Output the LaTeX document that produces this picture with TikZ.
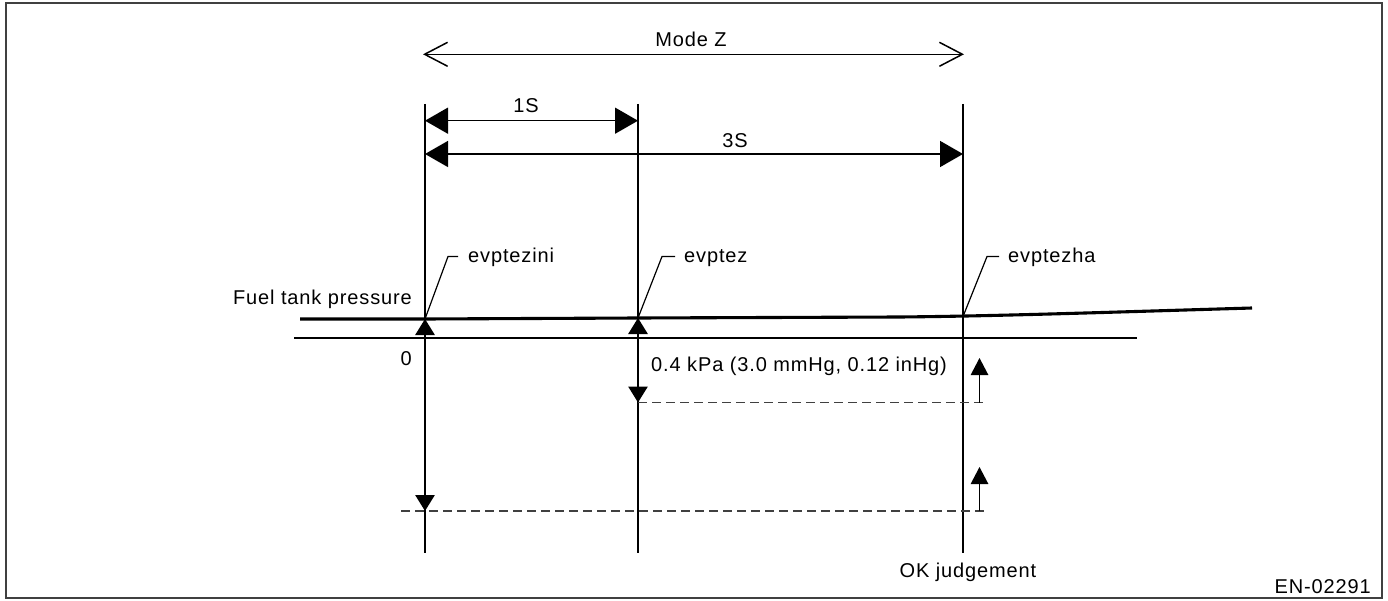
\documentclass[tikz,border=0pt]{standalone}
\usepackage{fontspec}
\setmainfont{Liberation Sans}[LetterSpace=4.35]
\usetikzlibrary{arrows.meta}
\begin{document}
\begin{tikzpicture}[x=1pt,y=-1pt,
  lbl/.style={font=\fontsize{20}{24}\selectfont, inner sep=0pt, text=black},
  vline/.style={line width=2.9pt},
  thinln/.style={line width=1.5pt},
  leader/.style={line width=1.2pt},
  dashln/.style={line width=1.6pt, dash pattern=on 9pt off 5pt, black!75},
  fhead/.style={-{Triangle[length=16pt,width=19.4pt]}, line width=1.5pt},
  shead/.style={-{Triangle[length=17pt,width=17.4pt]}, line width=1.5pt},
  bigdim/.style={{Triangle[length=23pt,width=26pt]}-{Triangle[length=23pt,width=26pt]}, line width=1.5pt},
  opendim/.style={{Straight Barb[length=23pt,width=24pt,line width=1.5pt]}-{Straight Barb[length=23pt,width=24pt,line width=1.5pt]}, line width=1.5pt}
]
\useasboundingbox (0,0) rectangle (1388,601);
% frame
\draw[line width=1.8pt, black!75] (5.7,3) rectangle (1382,598);

% coordinates
\coordinate (A1) at (425,104); \coordinate (A2) at (425,553);
\coordinate (B1) at (638,104); \coordinate (B2) at (638,553);
\coordinate (C1) at (963,104); \coordinate (C2) at (963,553);
\coordinate (pa) at (425,319); \coordinate (pb) at (638,318); \coordinate (pc) at (963,316.5);
\coordinate (fp0) at (300,319); \coordinate (fpm) at (900,317); \coordinate (fpe) at (1252,308);
\coordinate (z0) at (294,338); \coordinate (z1) at (1137,338);
\coordinate (mz1) at (423,54.3); \coordinate (mz2) at (964,54.3);
\coordinate (s1a) at (425,120.7); \coordinate (s1b) at (638,120.7);
\coordinate (s3a) at (425,154); \coordinate (s3b) at (963,154);
\coordinate (ka) at (448,256.5); \coordinate (kae) at (458,256.5);
\coordinate (kb) at (662,256.5); \coordinate (kbe) at (675,256.5);
\coordinate (kc) at (987,256.5); \coordinate (kce) at (999,256.5);
\coordinate (ua) at (425,337); \coordinate (ub) at (638,337);
\coordinate (da0) at (425,493); \coordinate (da) at (425,511);
\coordinate (db0) at (638,384); \coordinate (db) at (638,402.5);
\coordinate (d1s) at (638,402.5); \coordinate (d1e) at (986,402.5);
\coordinate (d2s) at (401,511); \coordinate (d2e) at (986,511);
\coordinate (ra0) at (979.5,402.5); \coordinate (ra) at (979.5,358);
\coordinate (rb0) at (979.5,511); \coordinate (rb) at (979.5,467);

% vertical lines
\draw[vline] (A1) -- (A2);
\draw[vline] (B1) -- (B2);
\draw[vline] (C1) -- (C2);

% dimension arrows
\draw[opendim] (mz1) -- (mz2);
\draw[bigdim] (s1a) -- (s1b);
\draw[bigdim] (s3a) -- (s3b);

% zero line and pressure line
\draw[thinln] (z0) -- (z1);
\draw[line width=3.1pt] (fp0) -- (pa) -- (pb) -- (fpm) .. controls (1000,316) and (1100,312.5) .. (fpe);

% dashed levels
\draw[dashln] (d1s) -- (d1e);
\draw[dashln] (d2s) -- (d2e);

% arrowheads on verticals
\draw[fhead] (ua) -- (pa);
\draw[fhead] (ub) -- (pb);
\draw[fhead] (da0) -- (da);
\draw[fhead] (db0) -- (db);

% small arrows right
\draw[shead] (ra0) -- (ra);
\draw[shead] (rb0) -- (rb);

% leaders
\draw[leader] (pa) -- (ka) -- (kae);
\draw[leader] (pb) -- (kb) -- (kbe);
\draw[leader] (pc) -- (kc) -- (kce);

% labels
\node[lbl, anchor=base] (modez) at (691,47) {Mode Z};
\node[lbl, anchor=base] (ones) at (526,113) {1S};
\node[lbl, anchor=base] (threes) at (735,148) {3S};
\node[lbl, anchor=base east] (ftp) at (412,305) {Fuel tank pressure};
\node[lbl, anchor=base east] (zero) at (412,365) {0};
\node[lbl, anchor=base west] (kpa) at (651,371) {0.4 kPa (3.0 mmHg, 0.12 inHg)};
\node[lbl, anchor=base west] (ini) at (468,263) {evptezini};
\node[lbl, anchor=base west] (ez) at (684,263) {evptez};
\node[lbl, anchor=base west] (ha) at (1008,263) {evptezha};
\node[lbl, anchor=base] (ok) at (968,577) {OK judgement};
\node[lbl, anchor=base east] (en) at (1371,593) {EN-02291};
\end{tikzpicture}
\end{document}
